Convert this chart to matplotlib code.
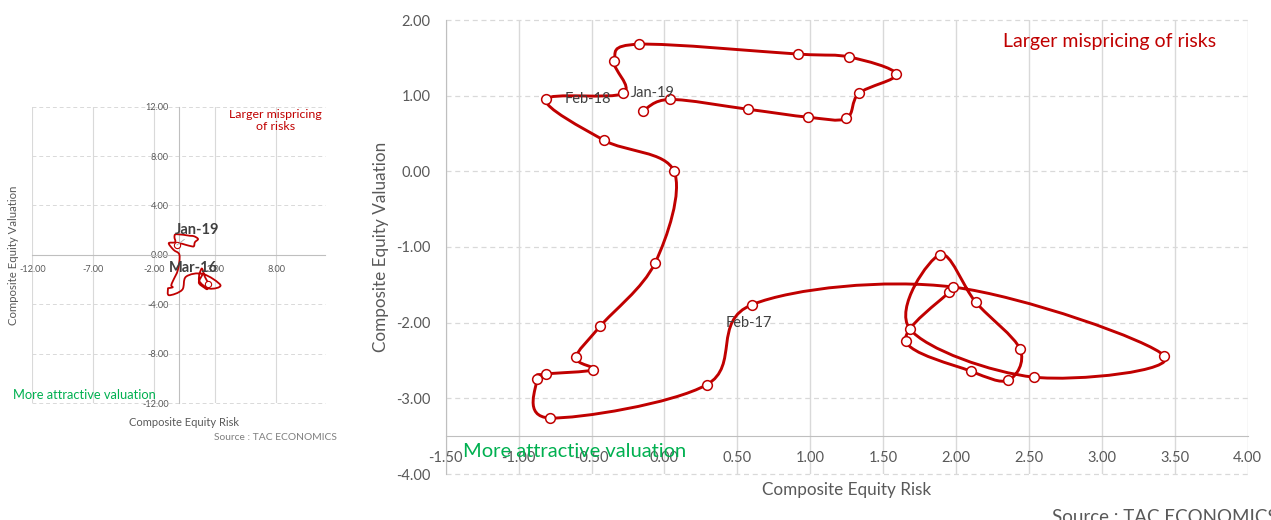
import matplotlib
matplotlib.use('Agg')
import matplotlib.pyplot as plt
from matplotlib.path import Path
from matplotlib.patches import PathPatch
import numpy as np

# ---------------- data ----------------
months = ['Mar-16', 'Apr-16', 'May-16', 'Jun-16', 'Jul-16', 'Aug-16', 'Sep-16', 'Oct-16',
          'Nov-16', 'Dec-16', 'Jan-17', 'Feb-17', 'Mar-17', 'Apr-17', 'May-17', 'Jun-17',
          'Jul-17', 'Aug-17', 'Sep-17', 'Oct-17', 'Nov-17', 'Dec-17', 'Jan-18', 'Feb-18',
          'Mar-18', 'Apr-18', 'May-18', 'Jun-18', 'Jul-18', 'Aug-18', 'Sep-18', 'Oct-18',
          'Nov-18', 'Dec-18', 'Jan-19']
risk = [1.95, 1.655, 2.10, 2.359, 2.439, 2.135, 1.888, 1.682,
        2.533, 3.429, 1.981, 0.603, 0.29, -0.783, -0.876, -0.812,
        -0.488, -0.606, -0.442, -0.064, 0.066, -0.414, -0.812, -0.284,
        -0.345, -0.174, 0.914, 1.268, 1.59, 1.333, 1.247, 0.988,
        0.574, 0.039, -0.146]
valuation = [-1.60, -2.24, -2.64, -2.76, -2.35, -1.73, -1.10, -2.08,
             -2.72, -2.44, -1.53, -1.76, -2.82, -3.26, -2.75, -2.68,
             -2.62, -2.46, -2.05, -1.21, 0.00, 0.41, 0.95, 1.03,
             1.46, 1.68, 1.55, 1.51, 1.285, 1.03, 0.70, 0.715,
             0.82, 0.95, 0.80]

big_xticks = [-1.5, -1.0, -0.5, 0.0, 0.5, 1.0, 1.5, 2.0, 2.5, 3.0, 3.5, 4.0]
big_yticks = [-4, -3, -2, -1, 0, 1, 2]
small_xticks = [-12, -7, -2, 3, 8]
small_yticks = [-12, -8, -4, 0, 4, 8, 12]
small_marked = ['Jul-16', 'Jan-19']

# ---------------- style ----------------
plt.rcParams['font.family'] = ['Lato', 'DejaVu Sans']
RED = '#C00000'
GREEN = '#00B050'
GRID = '#D9D9D9'
AXIS = '#BFBFBF'
TXT = '#595959'
LBL = '#404040'

W, H = 1271, 520
fig = plt.figure(figsize=(W / 100, H / 100), dpi=100)


def smooth_path(x, y):
    P = np.column_stack([x, y]).astype(float)
    n = len(P)
    verts = [P[0]]
    codes = [Path.MOVETO]
    for i in range(n - 1):
        p0 = P[i - 1] if i > 0 else P[i]
        p1 = P[i]
        p2 = P[i + 1]
        p3 = P[i + 2] if i + 2 < n else P[i + 1]
        verts += [p1 + (p2 - p0) / 6.0, p2 - (p3 - p1) / 6.0, p2]
        codes += [Path.CURVE4] * 3
    return Path(verts, codes)


def fx(px):
    return px / W


def fy(py):
    return 1 - py / H


# ---------------- big chart ----------------
ax = fig.add_axes([fx(445.7), fy(474), 802 / W, 454 / H])
ax.set_xlim(-1.5, 4.0)
ax.set_ylim(-4, 2)
ax.set_xticks(big_xticks)
ax.set_xticklabels([f'{v:.2f}' for v in big_xticks])
ax.set_yticks(big_yticks)
ax.set_yticklabels([f'{v:.2f}' for v in big_yticks])
for s in ['top', 'right']:
    ax.spines[s].set_visible(False)
ax.spines['bottom'].set_position(('data', -3.5))
ax.spines['bottom'].set_color(AXIS)
ax.spines['left'].set_color(AXIS)
ax.tick_params(length=0, labelsize=10.5, labelcolor=TXT)
ax.tick_params(axis='x', pad=11)
ax.tick_params(axis='y', pad=11)
ax.xaxis.grid(True, color=GRID, lw=1.0, ls='-')
ax.yaxis.grid(True, color=GRID, lw=0.9, ls=(0, (4, 3)))
for gl in ax.get_ygridlines():
    gl.set_clip_on(False)
ax.set_axisbelow(True)

ax.add_patch(PathPatch(smooth_path(risk, valuation), fill=False, ec=RED, lw=2.1,
                       joinstyle='round', capstyle='round', zorder=3))
ax.plot(risk, valuation, ls='none', marker='o', ms=7, mfc='white', mec=RED,
        mew=1.1, zorder=4)

ax.text(-0.08, 1.04, 'Jan-19', ha='center', va='center', fontsize=10.5, color=LBL, zorder=5)
ax.text(-0.525, 0.95, 'Feb-18', ha='center', va='center', fontsize=10.5, color=LBL, zorder=5)
ax.text(0.582, -2.0, 'Feb-17', ha='center', va='center', fontsize=10.5, color=LBL, zorder=5)
ax.text(2.32, 1.72, 'Larger mispricing of risks', ha='left', va='center',
        fontsize=14, color=RED)
ax.text(-1.38, -3.70, 'More attractive valuation', ha='left', va='center',
        fontsize=14.5, color=GREEN, zorder=5)

fig.text(fx(847), fy(490), 'Composite Equity Risk', ha='center', va='center',
         fontsize=12.3, color=TXT)
fig.text(fx(381), fy(247), 'Composite Equity Valuation', ha='center', va='center',
         rotation=90, fontsize=12.3, color=TXT)
fig.text(fx(1052), fy(509), 'Source : TAC ECONOMICS', ha='left', va='top',
         fontsize=13.5, color=TXT)

# ---------------- small chart ----------------
ax2 = fig.add_axes([fx(32.3), fy(403.3), 292.7 / W, 296.7 / H])
ax2.set_xlim(-12, 12)
ax2.set_ylim(-12, 12)
ax2.set_xticks(small_xticks)
ax2.set_xticklabels([f'{v:.2f}' for v in small_xticks])
ax2.set_yticks(small_yticks)
ax2.set_yticklabels([f'{v:.2f}' for v in small_yticks])
for s in ['top', 'right']:
    ax2.spines[s].set_visible(False)
ax2.spines['bottom'].set_position(('data', 0))
ax2.spines['left'].set_position(('data', 0))
ax2.spines['bottom'].set_color(AXIS)
ax2.spines['left'].set_color(AXIS)
ax2.tick_params(length=0, labelsize=6.6, labelcolor=TXT)
ax2.tick_params(axis='x', pad=7)
ax2.tick_params(axis='y', pad=7)
ax2.xaxis.grid(True, color=GRID, lw=0.8, ls='-')
ax2.yaxis.grid(True, color=GRID, lw=0.7, ls=(0, (4, 3)))
for gl in ax2.get_ygridlines():
    gl.set_clip_on(False)
ax2.set_axisbelow(True)

ax2.add_patch(PathPatch(smooth_path(risk, valuation), fill=False, ec=RED, lw=1.3,
                        joinstyle='round', zorder=3))
idx = [months.index(m) for m in small_marked]
ax2.plot([risk[i] for i in idx], [valuation[i] for i in idx], ls='none', marker='o',
         ms=4.5, mfc='white', mec=RED, mew=0.8, zorder=4)
ax2.annotate('Jan-19', xy=(risk[-1], valuation[-1]), xytext=(1.53, 2.05),
             ha='center', va='center', fontsize=10.5, fontweight='bold', color=LBL,
             arrowprops=dict(arrowstyle='-', color='#A6A6A6', lw=0.6,
                             shrinkA=0, shrinkB=0), zorder=5)
ax2.text(1.2, -1.03, 'Mar-16', ha='center', va='center', fontsize=10.5,
         fontweight='bold', color=LBL, zorder=5)
ax2.text(7.93, 10.87, 'Larger mispricing\nof risks', ha='center', va='center',
         fontsize=8.9, color=RED, linespacing=1.15)
ax2.text(-13.57, -11.3, 'More attractive valuation', ha='left', va='center',
         fontsize=9.3, color=GREEN, clip_on=False)

fig.text(fx(184), fy(423), 'Composite Equity Risk', ha='center', va='center',
         fontsize=8.0, color=TXT)
fig.text(fx(14), fy(255), 'Composite Equity Valuation', ha='center', va='center',
         rotation=90, fontsize=8.2, color=TXT)
fig.text(fx(337), fy(437), 'Source : TAC ECONOMICS', ha='right', va='center',
         fontsize=7.4, color='#7F7F7F')

fig.savefig('out.png', dpi=100)
